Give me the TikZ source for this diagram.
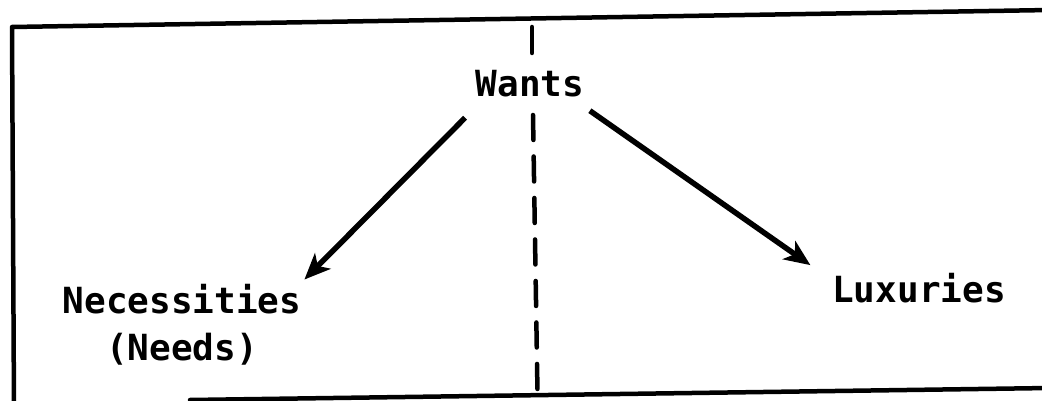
\documentclass[tikz,border=0pt]{standalone}
\usepackage{fontspec}
\setmonofont{DejaVu Sans Mono}
\usetikzlibrary{arrows.meta}
\begin{document}
\begin{tikzpicture}[x=1pt,y=-1pt,
  frame/.style={line width=4.5pt, line join=round, line cap=round},
  divider/.style={line width=4.5pt, line cap=round},
  lbl/.style={inner sep=0pt, font=\ttfamily\bfseries\fontsize{36}{47}\selectfont},
  arr/.style={line width=5.5pt, -{Stealth[length=26pt,width=22pt,inset=7pt]}}]
\useasboundingbox (0,0) rectangle (1042,401);
\draw[frame] (14,410) -- (12,27) -- (1050,10);
\draw[frame] (190,400) -- (1050,388);
\node[lbl, anchor=base] (wants) at (530,97) {Wants};
\node[lbl, anchor=base, align=center] (nec) at (182,360) {Necessities\\(Needs)};
\node[lbl, anchor=base] (lux) at (919,302) {Luxuries};
\draw[divider] (532,27) -- (532,53);
\draw[divider, dash pattern=on 25pt off 16.5pt] (533,115) -- (537.5,393);
\draw[arr] ([shift={(-10.5,20)}]wants.south west) -- ([shift={(3,-4)}]nec.north east);
\draw[arr] ([shift={(5.5,13)}]wants.south east) -- ([shift={(-21.7,-7.4)}]lux.north west);
\end{tikzpicture}
\end{document}
